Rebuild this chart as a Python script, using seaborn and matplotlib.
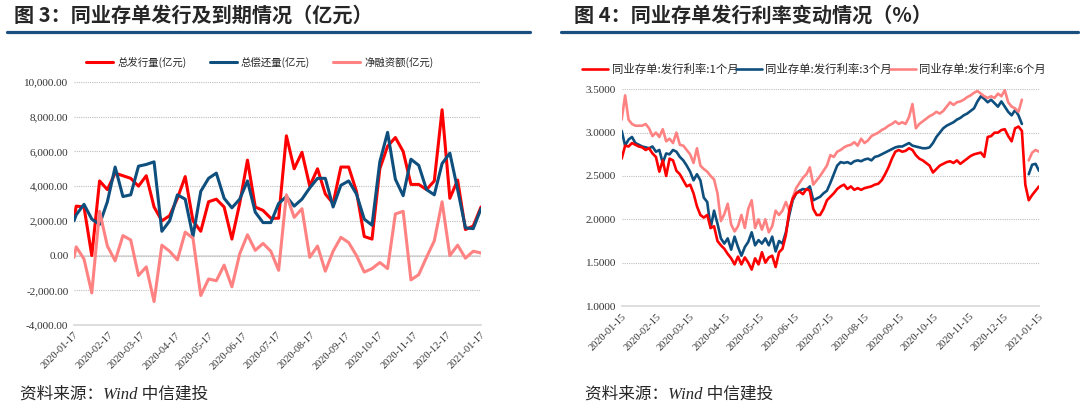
import numpy as np
import pandas as pd
import matplotlib
matplotlib.use('Agg')
import matplotlib.pyplot as plt
import matplotlib.dates as mdates
from matplotlib.ticker import FuncFormatter
import seaborn as sns

# ---- 图3 数据：周度（亿元）
week_dates = [pd.Timestamp('2020-01-17')] + list(pd.date_range('2020-01-19', periods=53, freq='7D'))
issue = [2100, 2850, 2800, 0, 4300, 3800, 4750, 4600, 4450, 4000,
         4600, 2800, 2000, 2300, 3300, 4550, 2000, 1400, 3100, 3250,
         2800, 950, 3000, 5500, 2800, 2600, 2150, 2150, 6900, 5000,
         5950, 4000, 5000, 3550, 3000, 5100, 5100, 3700, 1100, 950,
         5000, 6300, 6800, 6000, 4100, 4100, 3800, 4300, 8400, 3300,
         4350, 1500, 1700, 2800]
repay = [2000, 2350, 2950, 2100, 1800, 3100, 5100, 3400, 3500, 5150,
         5250, 5400, 1400, 2000, 3500, 3250, 1100, 3700, 4450, 4750,
         3300, 2750, 3250, 4300, 2500, 1900, 1900, 3000, 3400, 2850,
         3250, 3900, 4450, 4450, 2800, 4050, 4300, 3550, 2100, 1750,
         5400, 7100, 4400, 3450, 5550, 5200, 3800, 3500, 5300, 5900,
         3800, 1600, 1550, 2700]
net = [-100, 500, -200, -2150, 2550, 550, -300, 1150, 900, -1150,
       -650, -2650, 600, 250, -250, 1350, 1000, -2300, -1350, -1450,
       -550, -1800, 100, 1200, 300, 700, 250, -850, 3500, 2200,
       2700, -100, 550, -900, 250, 1050, 750, 0, -950, -750,
       -400, -750, 2400, 2550, -1400, -1100, -100, 850, 3100, 0,
       600, -150, 250, 150]

# ---- 图4 数据：发行利率（%）
rate_dates = pd.date_range('2020-01-15', periods=123, freq='3D')
rate_1m = [2.70, 2.85, 2.84, 2.88, 2.86, 2.84, 2.83, 2.80, 2.82, 2.76,
           2.72, 2.55, 2.68, 2.50, 2.70, 2.68, 2.56, 2.52, 2.45, 2.38,
           2.40, 2.30, 2.15, 2.05, 2.02, 2.05, 1.90, 1.92, 1.75, 1.70,
           1.66, 1.60, 1.55, 1.48, 1.57, 1.48, 1.56, 1.50, 1.42, 1.55,
           1.48, 1.62, 1.50, 1.56, 1.58, 1.45, 1.62, 1.66, 1.82, 2.10,
           2.24, 2.30, 2.32, 2.29, 2.35, 2.33, 2.12, 2.05, 2.05, 2.12,
           2.22, 2.26, 2.30, 2.35, 2.38, 2.40, 2.35, 2.38, 2.34, 2.36,
           2.34, 2.36, 2.37, 2.38, 2.40, 2.41, 2.45, 2.52, 2.60, 2.70,
           2.78, 2.80, 2.78, 2.79, 2.82, 2.80, 2.74, 2.70, 2.68, 2.65,
           2.62, 2.54, 2.58, 2.62, 2.64, 2.66, 2.67, 2.65, 2.68, 2.64,
           2.67, 2.70, 2.73, 2.75, 2.76, 2.77, 2.72, 2.95, 2.96, 3.00,
           3.00, 3.03, 3.04, 2.96, 2.90, 3.05, 3.07, 3.02, 2.40, 2.22,
           2.28, 2.33, 2.38]
rate_3m = [3.02, 2.85, 2.92, 2.95, 2.88, 2.86, 2.84, 2.83, 2.82, 2.84,
           2.78, 2.80, 2.65, 2.76, 2.75, 2.80, 2.78, 2.72, 2.68, 2.62,
           2.55, 2.45, 2.52, 2.45, 2.25, 2.20, 1.90, 2.10, 1.95, 1.78,
           1.72, 1.78, 1.65, 1.80, 1.68, 1.58, 1.68, 1.74, 1.85, 1.70,
           1.76, 1.72, 1.78, 1.70, 1.80, 1.63, 1.75, 1.72, 1.85, 2.05,
           2.22, 2.30, 2.33, 2.35, 2.34, 2.38, 2.22, 2.24, 2.26, 2.30,
           2.33, 2.42, 2.52, 2.62, 2.66, 2.65, 2.66, 2.64, 2.67, 2.68,
           2.67, 2.69, 2.70, 2.68, 2.72, 2.73, 2.75, 2.77, 2.79, 2.81,
           2.83, 2.84, 2.84, 2.86, 2.88, 2.85, 2.84, 2.83, 2.82, 2.82,
           2.83, 2.88, 2.95, 3.00, 3.05, 3.08, 3.10, 3.12, 3.15, 3.17,
           3.20, 3.22, 3.25, 3.28, 3.36, 3.42, 3.39, 3.35, 3.38, 3.34,
           3.30, 3.36, 3.30, 3.24, 3.20, 3.26, 3.20, 3.10, np.nan, 2.52,
           2.63, 2.64, 2.56]
rate_6m = [3.15, 3.43, 3.15, 3.10, 3.08, 3.08, 3.08, 3.10, 3.05, 2.96,
           3.00, 2.95, 3.04, 2.90, 2.93, 2.88, 3.00, 2.86, 2.85, 2.80,
           2.75, 2.65, 2.82, 2.62, 2.58, 2.55, 2.50, 2.46, 2.30, 1.98,
           2.06, 2.18, 1.94, 1.86, 1.92, 2.05, 1.90, 2.12, 2.22, 1.90,
           2.00, 1.88, 2.00, 1.85, 1.92, 2.10, 2.05, 2.10, 2.20, 2.10,
           2.25, 2.36, 2.42, 2.48, 2.52, 2.60, 2.40, 2.45, 2.50, 2.56,
           2.62, 2.74, 2.72, 2.78, 2.80, 2.83, 2.85, 2.86, 2.89, 2.85,
           2.93, 2.88, 2.91, 2.96, 2.98, 3.00, 3.03, 3.05, 3.08, 3.10,
           3.13, 3.10, 3.12, 3.10, 3.18, 3.33, 3.05, 3.10, 3.13, 3.16,
           3.19, 3.21, 3.24, 3.22, 3.25, 3.30, 3.35, 3.32, 3.35, 3.36,
           3.38, 3.41, 3.43, 3.46, 3.48, 3.45, 3.42, 3.40, 3.42, 3.40,
           3.45, 3.42, 3.49, 3.35, 3.30, 3.28, 3.24, 3.38, np.nan, 2.68,
           2.77, 2.80, 2.78]

RED = '#FF0000'
BLUE = '#0E4F7E'
PINK = '#FF8282'
NAVY = '#1B4F7F'

sns.set_theme(style='white')
plt.rcParams['font.family'] = ['Liberation Serif', 'Noto Sans CJK SC', 'DejaVu Sans']
plt.rcParams['axes.unicode_minus'] = False
cjk = ['Noto Sans CJK SC', 'DejaVu Sans']

fig = plt.figure(figsize=(10.8, 4.08), dpi=100)

# 标题和下划线
fig.text(14 / 1080, 1 - 15 / 408, '图 3：同业存单发行及到期情况（亿元）', family=cjk,
         fontsize=14.5, fontweight='bold', va='center', ha='left')
fig.text(574 / 1080, 1 - 15 / 408, '图 4：同业存单发行利率变动情况（%）', family=cjk,
         fontsize=14.5, fontweight='bold', va='center', ha='left')
fig.add_artist(plt.Line2D([7 / 1080, 530 / 1080], [1 - 32 / 408] * 2, color=NAVY, lw=2.3))
fig.add_artist(plt.Line2D([561 / 1080, 1078 / 1080], [1 - 32 / 408] * 2, color=NAVY, lw=2.3))

src_font = ['Liberation Serif', 'Noto Sans CJK SC']
fig.text(20 / 1080, 1 - 395 / 408, '资料来源：Wind 中信建投', family=src_font,
         style='italic', fontsize=12, va='center', ha='left')
fig.text(585 / 1080, 1 - 395 / 408, '资料来源：Wind 中信建投', family=src_font,
         style='italic', fontsize=12, va='center', ha='left')

# ---- 左图
df3 = pd.DataFrame({'date': week_dates, 'issue': issue, 'repay': repay, 'net': net})
ax1 = fig.add_axes([74 / 1080, 1 - 325 / 408, 407 / 1080, 243 / 408])
sns.lineplot(data=df3, x='date', y='issue', ax=ax1, color=RED, lw=2.2, label='总发行量(亿元)')
sns.lineplot(data=df3, x='date', y='repay', ax=ax1, color=BLUE, lw=2.2, label='总偿还量(亿元)')
sns.lineplot(data=df3, x='date', y='net', ax=ax1, color=PINK, lw=2.2, label='净融资额(亿元)')
ax1.set_ylim(-4000, 10000)
ax1.set_yticks(np.arange(-4000, 10001, 2000))
ax1.yaxis.set_major_formatter(FuncFormatter(lambda v, p: f'{v:,.2f}'))
ax1.set_xlim(pd.Timestamp('2020-01-17'), pd.Timestamp('2021-01-17'))
ax1.xaxis.set_major_locator(mdates.MonthLocator(bymonthday=17))
ax1.xaxis.set_major_formatter(mdates.DateFormatter('%Y-%m-%d'))
ax1.axhline(0, color='#d9d9d9', lw=1.2, zorder=0)
ax1.grid(axis='y', color='#bfbfbf', lw=0.8, ls=(0, (1, 1)))
ax1.set_axisbelow(True)

h, l = ax1.get_legend_handles_labels()
ax1.legend_.remove()
fig.legend(h, l, loc='center', bbox_to_anchor=(260 / 1080, 1 - 62 / 408), ncol=3,
           frameon=False, prop={'family': cjk, 'size': 7.5}, handlelength=2.6,
           columnspacing=2.2, handletextpad=0.4)

# ---- 右图
df4 = pd.DataFrame({'date': rate_dates, 'r1': rate_1m, 'r3': rate_3m, 'r6': rate_6m})
ax2 = fig.add_axes([621.7 / 1080, 1 - 306 / 408, 417.3 / 1080, 216.7 / 408])
gap = df4[['r3', 'r6']].isna().any(axis=1).idxmax()
sns.lineplot(data=df4, x='date', y='r1', ax=ax2, color=RED, lw=1.9, label='同业存单:发行利率:1个月')
for col, colr, name in [('r3', BLUE, '同业存单:发行利率:3个月'),
                        ('r6', PINK, '同业存单:发行利率:6个月')]:
    sns.lineplot(data=df4.iloc[:gap], x='date', y=col, ax=ax2, color=colr, lw=1.9, label=name)
    sns.lineplot(data=df4.iloc[gap + 1:], x='date', y=col, ax=ax2, color=colr, lw=1.9)
# 让1个月线画在最上面
ax2.lines[0].set_zorder(5)
ax2.set_ylim(1.0, 3.5)
ax2.set_yticks(np.arange(1.0, 3.51, 0.5))
ax2.yaxis.set_major_formatter(FuncFormatter(lambda v, p: f'{v:.4f}'))
ax2.set_xlim(pd.Timestamp('2020-01-15'), pd.Timestamp('2021-01-15'))
ax2.xaxis.set_major_locator(mdates.MonthLocator(bymonthday=15))
ax2.xaxis.set_major_formatter(mdates.DateFormatter('%Y-%m-%d'))
ax2.grid(axis='y', color='#bfbfbf', lw=0.8, ls=(0, (1, 1)))
ax2.set_axisbelow(True)

h, l = ax2.get_legend_handles_labels()
ax2.legend_.remove()
fig.legend(h, l, loc='center', bbox_to_anchor=(814 / 1080, 1 - 69 / 408), ncol=3,
           frameon=False, prop={'family': cjk, 'size': 8.2}, handlelength=2.3,
           columnspacing=-0.2, handletextpad=0.3)

for ax in (ax1, ax2):
    ax.set_xlabel('')
    ax.set_ylabel('')
    for s in ('top', 'right', 'left'):
        ax.spines[s].set_visible(False)
    ax.spines['bottom'].set_color('#d9d9d9')
    ax.tick_params(axis='y', length=0, labelsize=8, pad=4, colors='#333333')
    ax.tick_params(axis='x', length=3, color='#d9d9d9', labelsize=7.5, colors='#333333', pad=1)
    for t in ax.get_xticklabels():
        t.set_rotation(45)
        t.set_ha('right')
        t.set_rotation_mode('anchor')
    ax.set_facecolor('white')

fig.savefig('out.png', dpi=100, facecolor='white')
